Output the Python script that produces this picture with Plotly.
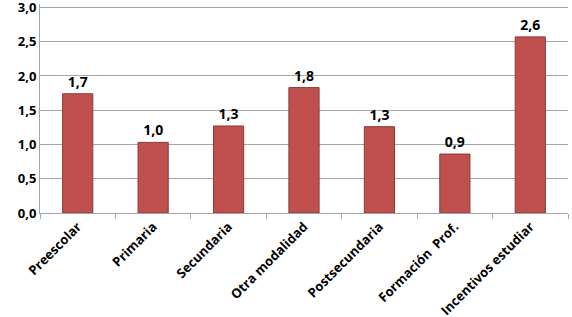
import plotly.graph_objects as go

categories = ["Preescolar", "Primaria", "Secundaria", "Otra modalidad",
              "Postsecundaria", "Formación  Prof.", "Incentivos estudiar"]
values = [1.74, 1.03, 1.27, 1.83, 1.26, 0.86, 2.57]
y_ticks = [0, 0.5, 1.0, 1.5, 2.0, 2.5, 3.0]

font_family = "Open Sans, Noto Sans, sans-serif"

fig = go.Figure(go.Bar(
    x=categories,
    y=values,
    marker=dict(color="#C0504D", line=dict(color="#8C3836", width=1)),
    texttemplate="%{y:.1f}",
    textposition="outside",
    textfont=dict(family=font_family, size=14, color="black", weight="bold"),
    cliponaxis=False,
    width=0.4,
))

fig.update_layout(
    width=572, height=317,
    margin=dict(l=40, r=4, t=4, b=104),
    paper_bgcolor="white", plot_bgcolor="white",
    separators=",.",
    showlegend=False,
    font=dict(family=font_family, size=12, color="black"),
)
fig.update_yaxes(
    range=[0, 3.05], tickvals=y_ticks, tickformat=".1f",
    showgrid=True, gridcolor="#A6A6A6", gridwidth=1,
    showline=True, linecolor="#A6A6A6", linewidth=1,
    ticks="", tickfont=dict(family=font_family, size=13, weight="bold"),
    zeroline=False, automargin=False, ticklabeloverflow="allow",
)
fig.update_xaxes(
    tickangle=-45, tickson="boundaries", ticks="outside", ticklen=5,
    tickcolor="#A6A6A6", showline=True, linecolor="#A6A6A6", linewidth=1,
    tickfont=dict(family=font_family, size=13, weight="bold"),
    automargin=False, ticklabeloverflow="allow",
)

fig.write_html("out.html")
